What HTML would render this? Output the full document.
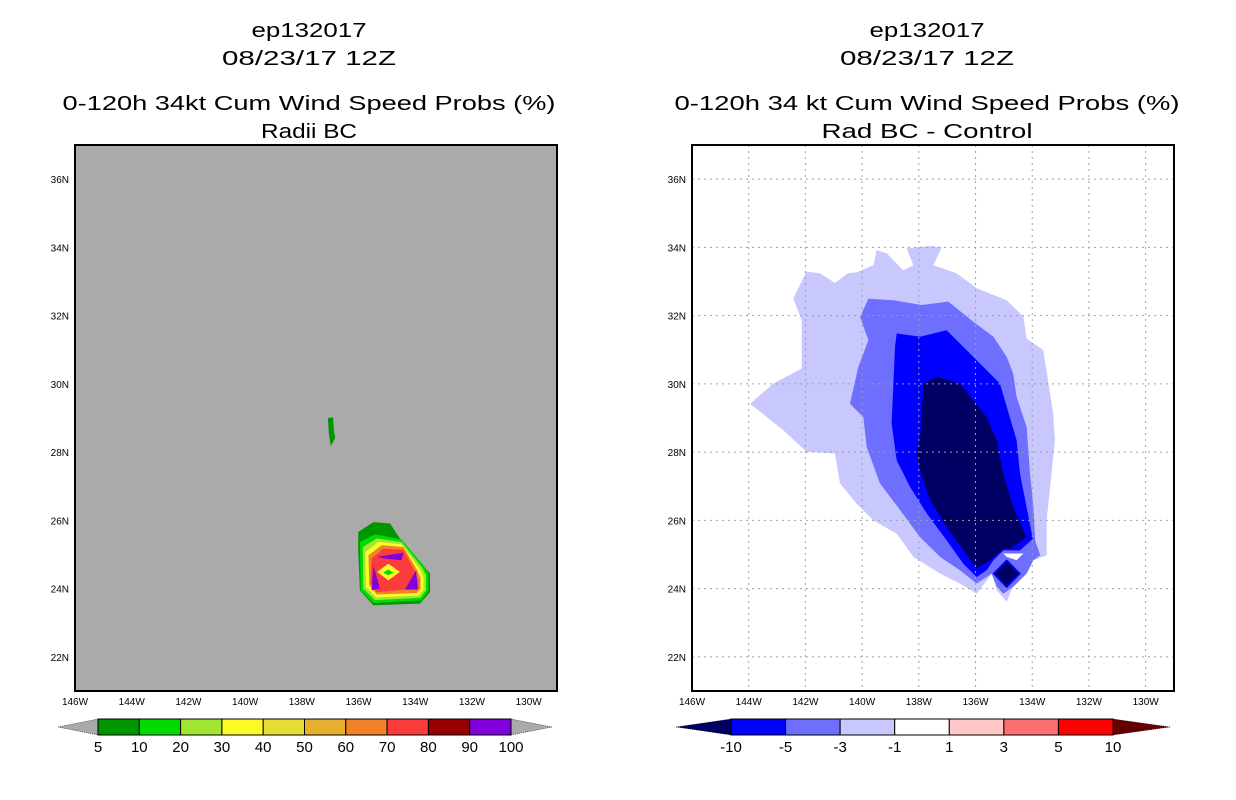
<!DOCTYPE html>
<html><head><meta charset="utf-8"><style>
html,body{margin:0;padding:0;background:#fff;width:1236px;height:800px;overflow:hidden}
svg{display:block}
text{font-family:"Liberation Sans",sans-serif;fill:#000}
</style></head><body>
<svg id="s" width="1236" height="800" xmlns="http://www.w3.org/2000/svg">
<g>
<text x="309" y="37" font-size="20" text-anchor="middle" textLength="115" lengthAdjust="spacingAndGlyphs">ep132017</text>
<text x="309" y="65" font-size="20" text-anchor="middle" textLength="174" lengthAdjust="spacingAndGlyphs">08/23/17 12Z</text>
<text x="309" y="110" font-size="20" text-anchor="middle" textLength="493" lengthAdjust="spacingAndGlyphs">0-120h 34kt Cum Wind Speed Probs (%)</text>
<text x="309" y="138" font-size="20" text-anchor="middle" textLength="96" lengthAdjust="spacingAndGlyphs">Radii BC</text>
</g>
<g>
<text x="927" y="37" font-size="20" text-anchor="middle" textLength="115" lengthAdjust="spacingAndGlyphs">ep132017</text>
<text x="927" y="65" font-size="20" text-anchor="middle" textLength="174" lengthAdjust="spacingAndGlyphs">08/23/17 12Z</text>
<text x="927" y="110" font-size="20" text-anchor="middle" textLength="505" lengthAdjust="spacingAndGlyphs">0-120h 34 kt Cum Wind Speed Probs (%)</text>
<text x="927" y="138" font-size="20" text-anchor="middle" textLength="211" lengthAdjust="spacingAndGlyphs">Rad BC - Control</text>
</g>
</svg>
<script>
// axis setup
const lonTicks=[146,144,142,140,138,136,134,132,130];
const latTicks=[36,34,32,30,28,26,24,22];
// left panel: probability contours [lon W, lat N]
const leftLevels=[
 {c:"#009600",p:[[136.01,25.66],[135.48,25.95],[134.89,25.91],[134.54,25.47],[133.77,24.73],[133.48,24.44],[133.48,23.90],[133.83,23.56],[135.48,23.51],[135.95,23.95],[136.01,25.12]]},
 {c:"#00dc00",p:[[135.95,25.37],[135.42,25.59],[134.48,25.44],[133.71,24.68],[133.54,24.44],[133.54,23.93],[133.77,23.66],[135.48,23.58],[135.92,23.95]]},
 {c:"#a0e632",p:[[135.85,25.22],[135.36,25.47],[134.48,25.37],[133.77,24.63],[133.62,24.39],[133.62,23.95],[133.83,23.73],[135.42,23.66],[135.83,24.00]]},
 {c:"#fafa28",p:[[135.77,25.07],[135.30,25.37],[134.48,25.30],[133.85,24.59],[133.71,24.34],[133.71,23.97],[133.89,23.80],[135.38,23.74],[135.74,24.05]]},
 {c:"#f08228",p:[[135.65,24.98],[135.18,25.27],[134.42,25.22],[133.93,24.54],[133.81,24.30],[133.81,24.00],[133.95,23.87],[135.36,23.83],[135.62,24.10]]},
 {c:"#fa3c3c",p:[[135.54,24.88],[135.13,25.17],[134.42,25.14],[134.01,24.49],[133.89,24.24],[133.89,24.00],[135.36,23.90],[135.57,24.15]]},
 {c:"#8200dc",p:[[135.36,24.93],[134.42,25.05],[134.48,24.83],[135.07,24.88]]},
 {c:"#8200dc",p:[[135.54,23.95],[135.48,24.68],[135.24,24.00]]},
 {c:"#8200dc",p:[[134.36,23.97],[133.97,24.54],[133.91,23.97]]},
 {c:"#fafa28",p:[[134.95,24.73],[134.54,24.49],[134.95,24.24],[135.34,24.49]]},
 {c:"#00dc00",p:[[134.95,24.56],[134.77,24.47],[134.95,24.39],[135.13,24.47]]},
 {c:"#009600",p:[[137.08,28.99],[136.90,29.02],[136.87,28.62],[136.82,28.42],[136.98,28.18],[137.05,28.56]]}
];
// right panel: difference contours
const rightLevels=[
 {c:"#c8c8ff",p:[[143.95,29.42],[143.13,30.01],[142.13,30.45],[142.13,31.87],[142.43,32.50],[141.96,33.29],[141.49,33.24],[140.96,32.96],[140.49,33.24],[140.19,33.27],[139.60,33.48],[139.49,33.92],[139.13,33.82],[138.55,33.33],[138.19,33.48],[138.43,33.97],[137.61,34.04],[137.19,34.00],[137.49,33.48],[136.67,33.24],[135.96,32.80],[134.90,32.45],[134.31,31.97],[134.20,31.33],[133.61,30.99],[133.26,29.13],[133.20,28.35],[133.49,26.00],[133.49,24.98],[133.96,24.83],[134.55,24.34],[134.90,23.61],[135.25,23.95],[135.43,24.44],[135.96,23.85],[136.55,24.15],[137.25,24.44],[138.19,24.93],[138.78,25.61],[139.60,26.00],[140.19,26.49],[140.78,27.08],[140.96,27.96],[141.96,28.01],[142.78,28.64]]},
 {c:"#6e6eff",p:[[139.78,32.50],[138.90,32.45],[137.90,32.31],[136.96,32.41],[136.08,31.82],[135.37,31.38],[134.90,30.79],[134.67,30.30],[134.55,29.62],[134.20,28.74],[134.08,27.37],[133.96,26.39],[133.90,25.42],[133.72,24.98],[133.96,24.83],[134.20,24.44],[134.67,24.05],[135.02,23.85],[135.25,24.05],[135.43,24.44],[135.96,24.15],[136.55,24.54],[137.25,24.93],[137.96,25.51],[138.66,26.30],[139.37,27.08],[139.84,28.15],[139.96,29.03],[140.43,29.42],[140.13,30.50],[139.78,31.28],[140.07,31.96]]},
 {c:"#0000ff",p:[[138.78,31.48],[137.96,31.38],[137.02,31.57],[136.08,30.79],[135.14,30.01],[134.90,29.33],[134.55,28.35],[134.43,27.37],[134.20,26.39],[133.98,25.46],[134.43,25.12],[135.02,25.12],[135.37,24.83],[135.61,24.54],[135.96,24.34],[136.43,24.73],[137.02,25.42],[137.72,26.20],[138.31,26.98],[138.78,27.76],[138.96,28.84],[138.90,29.91],[138.84,31.09]]},
 {c:"#000064",p:[[137.84,30.01],[137.37,30.21],[136.55,30.01],[136.08,29.52],[135.61,29.03],[135.25,28.35],[135.02,27.37],[134.67,26.39],[134.20,25.51],[134.78,25.17],[135.02,25.17],[135.49,24.83],[135.96,24.59],[136.43,25.12],[137.02,25.81],[137.61,26.59],[137.96,27.47],[138.08,27.96],[137.96,28.45],[137.90,29.13]]},
 {c:"#ffffff",p:[[135.02,25.03],[134.31,25.03],[134.55,24.83],[134.90,24.93]]},
 {c:"#0000ff",p:[[134.90,24.86],[134.40,24.44],[134.90,24.01],[135.40,24.44]]},
 {c:"#000064",p:[[134.90,24.78],[134.49,24.44],[134.90,24.09],[135.31,24.44]]}
];
const leftBarColors=["#009600","#00dc00","#a0e632","#fafa28","#e6dc32","#e6af2d","#f08228","#fa3c3c","#960000","#8200dc"];
const leftBarLabels=["5","10","20","30","40","50","60","70","80","90","100"];
const rightBarColors=["#0000ff","#6e6eff","#c8c8ff","#ffffff","#ffc8c8","#ff6e6e","#ff0000"];
const rightBarLabels=["-10","-5","-3","-1","1","3","5","10"];

const NS="http://www.w3.org/2000/svg";
const svg=document.getElementById('s');
function mk(tag,attrs,parent){const e=document.createElementNS(NS,tag);for(const k in attrs)e.setAttribute(k,attrs[k]);(parent||svg).appendChild(e);return e;}
const W=482,H=546,T=145,lonMax=146,lonMin=129,latMin=21,latMax=37;
function panel(x0,levels,bg,grid,name){
  const g=mk('g',{});
  
  
  const sx=lon=>x0+(lonMax-lon)/(lonMax-lonMin)*W;
  const sy=lat=>T+(latMax-lat)/(latMax-latMin)*H;
  const bgr=mk('rect',{x:x0,y:T,width:W,height:H,fill:bg},g);
  
  
  levels.forEach((L,i)=>{
    const p=mk('polygon',{points:L.p.map(q=>sx(q[0]).toFixed(1)+','+sy(q[1]).toFixed(1)).join(' '),fill:L.c},g);
    
    
  });
  if(grid){
    lonTicks.forEach(l=>{if(l<146){const ln=mk('line',{x1:sx(l),x2:sx(l),y1:T,y2:T+H,stroke:'#a0a0a0','stroke-dasharray':'2,4'},g);
      
      }});
    latTicks.forEach(l=>{const ln=mk('line',{x1:x0,x2:x0+W,y1:sy(l),y2:sy(l),stroke:'#a0a0a0','stroke-dasharray':'2,4'},g);
      
      });
  }
  const fr=mk('rect',{x:x0,y:T,width:W,height:H,fill:'none',stroke:'#000','stroke-width':2},g);
  
  
  lonTicks.forEach(l=>{
    const t=mk('text',{x:sx(l),y:T+H+14,'font-size':10,'text-anchor':'middle'},g);t.textContent=l+'W';
    
    
  });
  latTicks.forEach(l=>{
    const t=mk('text',{x:x0-6,y:sy(l)+4,'font-size':10,'text-anchor':'end'},g);t.textContent=l+'N';
    
    
  });
}
panel(75,leftLevels,'#aaaaaa',false,'left-map-panel');
panel(692,rightLevels,'#ffffff',true,'right-map-panel');

function colorbar(x0,x1,tipL,tipR,colors,labels,lc,rc,name){
  const g=mk('g',{});
  
  
  const y0=719,y1=735,ym=727,w=(x1-x0)/colors.length;
  const a=mk('polygon',{points:`${tipL},${ym} ${x0},${y0} ${x0},${y1}`,fill:lc,stroke:'#000','stroke-width':0.5,'stroke-dasharray':'1,1'},g);
  
  
  const b=mk('polygon',{points:`${tipR},${ym} ${x1},${y0} ${x1},${y1}`,fill:rc,stroke:'#000','stroke-width':0.5,'stroke-dasharray':'1,1'},g);
  
  
  colors.forEach((c,i)=>{
    const r=mk('rect',{x:x0+i*w,y:y0,width:w,height:y1-y0,fill:c,stroke:'#000','stroke-width':1},g);
    
    
  });
  labels.forEach((l,i)=>{
    const t=mk('text',{x:x0+i*w,y:752,'font-size':15,'text-anchor':'middle'},g);t.textContent=l;
    
    
  });
}
colorbar(98,511,58,552,leftBarColors,leftBarLabels,'#aaaaaa','#aaaaaa','left-colorbar');
colorbar(731,1113,676,1170,rightBarColors,rightBarLabels,'#000064','#640000','right-colorbar');
</script>
</body></html>
